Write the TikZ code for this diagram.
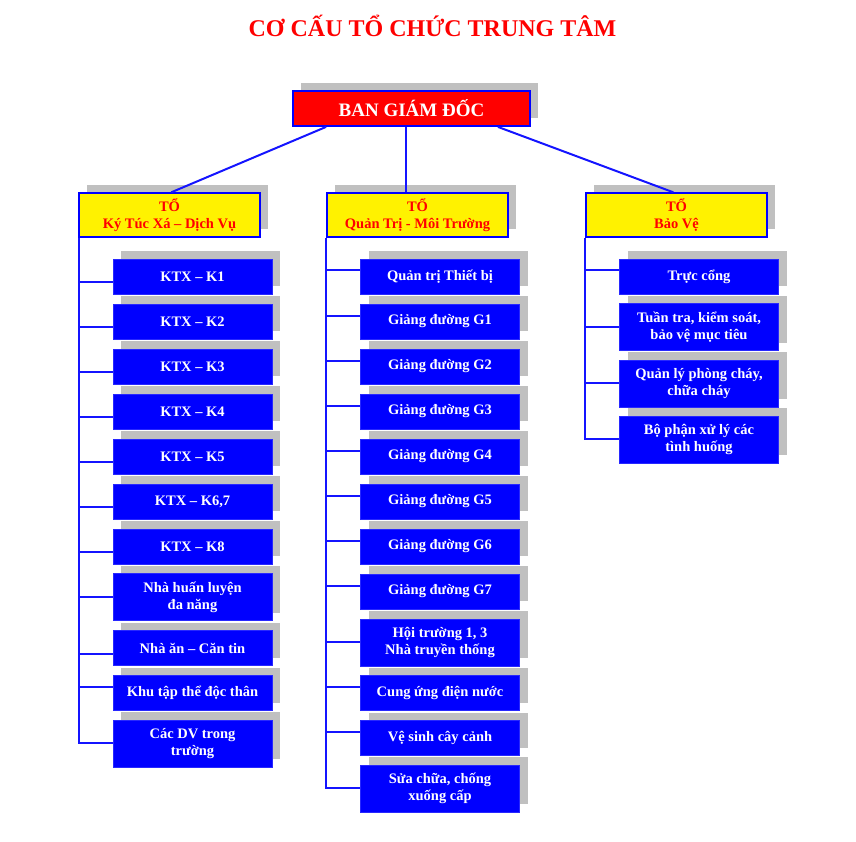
\documentclass[tikz,border=0pt]{standalone}
\usepackage{fontspec}
\setmainfont{Liberation Serif}
\usetikzlibrary{shadows}
\definecolor{shadowgray}{RGB}{192,192,192}
\definecolor{boxblue}{RGB}{0,0,255}
\definecolor{edgeblue}{RGB}{40,40,255}
\definecolor{linkblue}{RGB}{20,20,255}
\tikzset{
  shad/.style={drop shadow={shadow xshift=8pt, shadow yshift=8pt, fill=shadowgray, opacity=1}},
  titletext/.style={text=red, font=\fontsize{24}{28}\selectfont\bfseries, inner sep=0pt},
  topbox/.style={shad, fill=red, draw=boxblue, line width=1.8pt, minimum width=237pt, minimum height=35pt, inner sep=0pt, text=white, font=\fontsize{19}{22}\selectfont\bfseries},
  teambox/.style={shad, fill=yellow, draw=boxblue, line width=1.4pt, minimum width=181pt, minimum height=44pt, inner sep=0pt, align=center, text=red, font=\fontsize{14.5}{17}\selectfont\bfseries},
  unitbox/.style={shad, fill=boxblue, draw=edgeblue, line width=0.8pt, minimum width=159pt, inner sep=0pt, align=center, text=white, font=\fontsize{14.5}{17}\selectfont\bfseries},
  one/.style={unitbox, minimum height=35pt},
  two/.style={unitbox, minimum height=47pt},
  conn/.style={draw=linkblue, line width=2pt}
}
\begin{document}
\begin{tikzpicture}[x=1pt, y=-1pt]
\useasboundingbox (0,0) rectangle (856,842);
\node[titletext, anchor=base] (title) at (432.5,37) {CƠ CẤU TỔ CHỨC TRUNG TÂM};
\node[topbox] (bgd) at (411.5,108.5) {BAN GIÁM ĐỐC};
% team boxes
\node[teambox] (t1) at (169.5,215) {TỔ\\Ký Túc Xá – Dịch Vụ};
\node[teambox] (t2) at (417.5,215) {TỔ\\Quản Trị - Môi Trường};
\node[teambox] (t3) at (676.5,215) {TỔ\\Bảo Vệ};
% left column
\node[one] (a1) at (192.5,276.5) {KTX – K1};
\node[one] (a2) at (192.5,321.5) {KTX – K2};
\node[one] (a3) at (192.5,366.5) {KTX – K3};
\node[one] (a4) at (192.5,411.5) {KTX – K4};
\node[one] (a5) at (192.5,456.5) {KTX – K5};
\node[one] (a6) at (192.5,501.5) {KTX – K6,7};
\node[one] (a7) at (192.5,546.5) {KTX – K8};
\node[two] (a8) at (192.5,597) {Nhà huấn luyện\\đa năng};
\node[one] (a9) at (192.5,648) {Nhà ăn – Căn tin};
\node[one] (a10) at (192.5,693) {Khu tập thể độc thân};
\node[two] (a11) at (192.5,743.5) {Các DV trong\\trường};
% middle column
\node[one] (b1) at (440,276.5) {Quản trị Thiết bị};
\node[one] (b2) at (440,321.5) {Giảng đường G1};
\node[one] (b3) at (440,366.5) {Giảng đường G2};
\node[one] (b4) at (440,411.5) {Giảng đường G3};
\node[one] (b5) at (440,456.5) {Giảng đường G4};
\node[one] (b6) at (440,501.5) {Giảng đường G5};
\node[one] (b7) at (440,546.5) {Giảng đường G6};
\node[one] (b8) at (440,591.5) {Giảng đường G7};
\node[two] (b9) at (440,642.5) {Hội trường 1, 3\\Nhà truyền thống};
\node[one] (b10) at (440,693) {Cung ứng điện nước};
\node[one] (b11) at (440,738) {Vệ sinh cây cảnh};
\node[two] (b12) at (440,788.5) {Sửa chữa, chống\\xuống cấp};
% right column
\node[one] (c1) at (699,276.5) {Trực cổng};
\node[two] (c2) at (699,327) {Tuần tra, kiểm soát,\\bảo vệ mục tiêu};
\node[two] (c3) at (699,383.5) {Quản lý phòng cháy,\\chữa cháy};
\node[two] (c4) at (699,439.5) {Bộ phận xử lý các\\tình huống};
% connectors from the board
\draw[conn] ([xshift=34pt]bgd.south west) -- ([xshift=93pt]t1.north west);
\draw[conn] ([xshift=-5.5pt]bgd.south) -- ([xshift=-11.5pt]t2.north);
\draw[conn] ([xshift=-33pt]bgd.south east) -- ([xshift=88pt]t3.north west);
% left branches
\foreach \n/\d in {a1/23,a2/23,a3/23,a4/23,a5/23,a6/23,a7/23,a8/24,a9/24,a10/12,a11/23.5}
  \draw[conn] ([xshift=1pt]t1.south west) |- ([yshift=-\d pt]\n.north west);
% middle branches
\foreach \n/\d in {b1/11,b2/12,b3/12,b4/12,b5/12,b6/12,b7/12,b8/12,b9/23.5,b10/12,b11/12,b12/23.5}
  \draw[conn] (t2.south west) |- ([yshift=-\d pt]\n.north west);
% right branches
\foreach \n/\d in {c1/11,c2/24,c3/23.5,c4/23.5}
  \draw[conn] (t3.south west) |- ([yshift=-\d pt]\n.north west);
\end{tikzpicture}
\end{document}
